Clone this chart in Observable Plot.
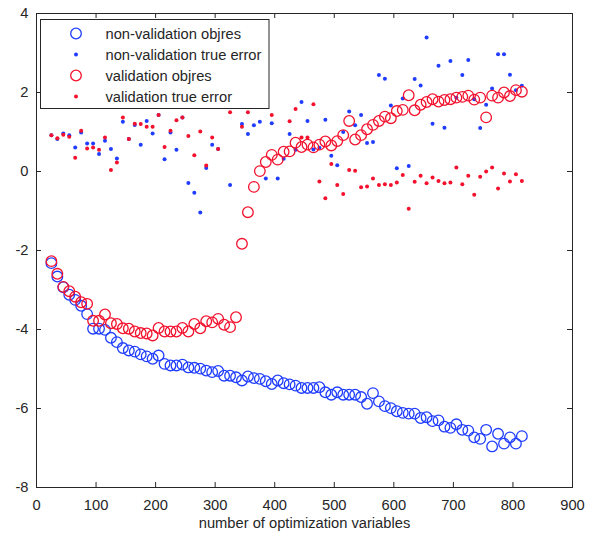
<!DOCTYPE html>
<html>
<head>
<meta charset="utf-8">
<script src="https://cdn.jsdelivr.net/npm/d3@7"></script>
<script src="https://cdn.jsdelivr.net/npm/@observablehq/plot@0.6"></script>
<style>
  html, body { margin: 0; padding: 0; background: #fff; }
  #chart { width: 602px; height: 540px; }
</style>
</head>
<body>
<div id="chart"></div>
<script>
// number of optimization variables
const xVals = [25,35,45,55,65,75,85,95,105,115,125,135,145,155,165,175,185,195,205,215,
  225,235,245,255,265,275,285,295,305,315,325,335,345,355,365,375,385,395,405,415,
  425,435,445,455,465,475,485,495,505,515,525,535,545,555,565,575,585,595,605,615,
  625,635,645,655,665,675,685,695,705,715,725,735,745,755,765,775,785,795,805,815];

const nonValObjres = [-2.32,-2.66,-2.93,-3.12,-3.25,-3.40,-3.61,-3.98,-3.98,-4.01,
  -4.21,-4.32,-4.47,-4.53,-4.56,-4.63,-4.68,-4.74,-4.66,-4.87,
  -4.91,-4.91,-4.89,-4.96,-4.97,-4.99,-5.04,-5.08,-5.05,-5.17,
  -5.17,-5.21,-5.29,-5.19,-5.23,-5.25,-5.31,-5.38,-5.29,-5.36,
  -5.39,-5.42,-5.48,-5.48,-5.48,-5.46,-5.59,-5.65,-5.59,-5.65,
  -5.65,-5.65,-5.71,-5.88,-5.61,-5.82,-5.94,-5.99,-6.07,-6.11,
  -6.13,-6.13,-6.24,-6.22,-6.32,-6.30,-6.46,-6.49,-6.40,-6.54,
  -6.56,-6.73,-6.77,-6.54,-6.96,-6.64,-6.89,-6.73,-6.89,-6.70];

const nonValTrueError = [0.92,0.82,0.96,0.92,0.61,0.99,0.71,0.71,0.44,0.78,
  0.57,0.33,1.26,0.82,1.18,0.68,1.28,0.96,1.43,0.31,
  0.99,0.55,1.37,-0.29,-0.54,-1.04,0.09,0.68,0.57,null,
  -0.34,null,1.20,0.95,1.17,1.26,-0.18,1.22,-0.18,0.32,
  0.95,0.55,1.76,1.28,0.56,0.60,1.31,0.40,0.16,1.00,
  1.52,1.17,1.43,0.72,0.75,2.44,2.35,1.67,0.08,1.85,
  0.14,2.34,2.18,3.39,1.21,2.68,1.11,2.80,1.87,2.44,
  2.82,1.83,1.10,1.69,2.10,2.97,2.97,2.45,2.06,2.17];

const valObjres = [-2.27,-2.59,-2.92,-3.03,-3.17,-3.31,-3.35,-3.78,-3.78,-3.62,
  -3.84,-3.86,-3.97,-3.98,-4.05,-4.09,-4.10,-4.15,-3.96,-4.05,
  -4.05,-4.05,-3.96,-4.05,-3.86,-3.97,-3.79,-3.82,-3.73,-3.88,
  -3.94,-3.69,-1.83,-1.03,-0.39,0.01,0.24,0.42,0.30,0.50,
  0.51,0.73,0.62,0.68,0.61,0.68,0.76,0.66,0.77,0.92,
  1.28,0.81,0.92,1.07,1.18,1.28,1.39,1.35,1.53,1.56,
  1.93,1.55,1.69,1.76,1.83,1.77,1.81,1.83,1.87,1.89,
  1.92,1.82,1.87,1.37,1.92,1.87,2.00,1.91,2.06,2.02];

const valTrueError = [0.92,0.84,0.93,0.88,0.35,1.03,0.58,0.61,0.55,0.86,
  0.04,0.23,1.37,0.82,1.21,1.20,1.13,1.13,1.43,0.62,
  1.03,1.30,1.37,0.90,0.41,1.01,0.15,0.86,0.57,null,
  1.50,null,1.13,1.50,null,null,null,1.43,null,null,
  1.27,1.58,0.86,0.86,1.70,-0.25,-0.68,0.19,-0.34,-0.57,
  0.04,0.02,-0.40,-0.38,-0.18,-0.34,-0.32,-0.34,-0.28,-0.09,
  -0.94,-0.26,-0.11,-0.30,-0.15,-0.24,-0.30,-0.28,0.10,-0.32,
  -0.11,-0.59,-0.13,0.00,0.10,-0.43,-0.05,-0.25,-0.07,-0.24];

const xTicks = [0,100,200,300,400,500,600,700,800,900];
const yTicks = [-8,-6,-4,-2,0,2,4];
const seriesNames = ["non-validation objres","non-validation true error","validation objres","validation true error"];
const xLabel = "number of optimization variables";

const BLUE = "#1f3cff";
const RED = "#f3112d";
const INK = "#262626";

const W = 602, H = 540;
const mL = 36, mR = 30, mT = 13, mB = 53;
const pw = W - mL - mR, ph = H - mT - mB;

const rows = xVals.map((x, i) => ({
  x, nvo: nonValObjres[i], nvt: nonValTrueError[i], vo: valObjres[i], vt: valTrueError[i]
}));

const chart = Plot.plot({
  width: W, height: H,
  marginLeft: mL, marginRight: mR, marginTop: mT, marginBottom: mB,
  style: {fontFamily: "'Liberation Sans', Arial, Helvetica, sans-serif", fontSize: "14.7px", color: INK, background: "#fff"},
  x: {domain: [0, 900]},
  y: {domain: [-8, 4]},
  marks: [
    Plot.dot(rows, {x: "x", y: "nvo", r: 5.3, stroke: BLUE, strokeWidth: 1.3, fill: "none"}),
    Plot.dot(rows, {x: "x", y: "nvt", r: 2, fill: BLUE, stroke: "none"}),
    Plot.dot(rows, {x: "x", y: "vo", r: 5.3, stroke: RED, strokeWidth: 1.3, fill: "none"}),
    Plot.dot(rows, {x: "x", y: "vt", r: 2, fill: RED, stroke: "none"}),
    Plot.frame({stroke: INK, strokeWidth: 1}),
    Plot.ruleX(xTicks, {x: d => d, insetTop: ph - 5, stroke: INK}),
    Plot.ruleX(xTicks, {x: d => d, insetBottom: ph - 5, stroke: INK}),
    Plot.ruleY(yTicks, {y: d => d, insetRight: pw - 5, stroke: INK}),
    Plot.ruleY(yTicks, {y: d => d, insetLeft: pw - 5, stroke: INK}),
    Plot.axisX({ticks: xTicks, tickSize: 0, tickPadding: 12, label: null, tickFormat: d => String(d), fontSize: 14.7, fill: INK}),
    Plot.axisY({ticks: yTicks, tickSize: 0, tickPadding: 8, label: null, tickFormat: d => String(d), fontSize: 14.7, fill: INK}),
    Plot.text([xLabel], {text: d => d, frameAnchor: "bottom", dy: 40, fontSize: 14.7, fill: INK})
  ]
});
document.getElementById("chart").appendChild(chart);

// legend (drawn on top of the plot area, white background)
const svg = d3.select(chart);
const lg = svg.append("g").attr("text-anchor", "start");
lg.append("rect").attr("x", 40.5).attr("y", 19.5).attr("width", 228.5).attr("height", 89)
  .attr("fill", "#fff").attr("stroke", INK).attr("stroke-width", 1);
const legendRows = [
  {name: seriesNames[0], color: BLUE, open: true},
  {name: seriesNames[1], color: BLUE, open: false},
  {name: seriesNames[2], color: RED, open: true},
  {name: seriesNames[3], color: RED, open: false}
];
legendRows.forEach((e, k) => {
  const cy = 33.5 + k * 21;
  if (e.open) {
    lg.append("circle").attr("cx", 76).attr("cy", cy).attr("r", 5.3)
      .attr("fill", "none").attr("stroke", e.color).attr("stroke-width", 1.3);
  } else {
    lg.append("circle").attr("cx", 76).attr("cy", cy).attr("r", 2).attr("fill", e.color);
  }
  lg.append("text").attr("x", 105.5).attr("y", cy).attr("dy", "0.36em")
    .attr("text-anchor", "start")
    .attr("fill", INK).style("font-size", "14.7px").text(e.name);
});
</script>
</body>
</html>
